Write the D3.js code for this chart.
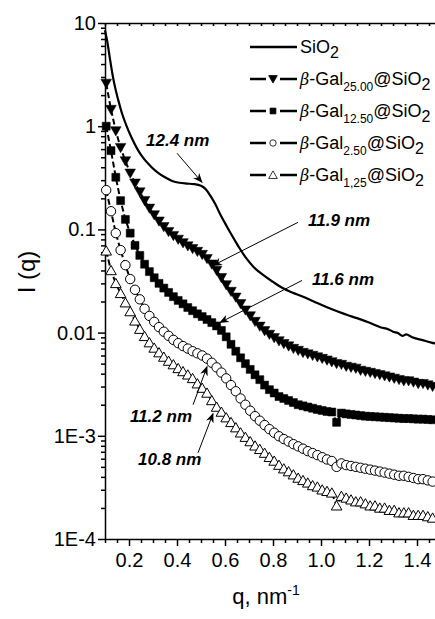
<!DOCTYPE html>
<html>
<head>
<meta charset="utf-8">
<script src="https://cdn.jsdelivr.net/npm/d3@7"></script>
<style>
  body { margin: 0; background: #fff; }
  text { font-family: Arial, "Liberation Sans", sans-serif; fill: #000; }
</style>
</head>
<body>
<div id="chart"></div>
<script>
// q grid shared by the four beta-Gal series (nm^-1)
const qGrid = [0.105,0.125,0.145,0.165,0.185,0.205,0.225,0.245,0.265,0.285,
  0.305,0.325,0.345,0.365,0.385,0.405,0.425,0.445,0.465,0.485,
  0.505,0.525,0.545,0.565,0.585,0.605,0.625,0.645,0.665,0.685,
  0.705,0.725,0.745,0.765,0.785,0.805,0.825,0.845,0.865,0.885,
  0.905,0.925,0.945,0.965,0.985,1.005,1.025,1.045,1.065,1.085,
  1.105,1.125,1.145,1.165,1.185,1.205,1.225,1.245,1.265,1.285,
  1.305,1.325,1.345,1.365,1.385,1.405,1.425,1.445,1.465];

const gal2500 = [2.6,1.45,0.90,0.62,0.46,0.35,0.28,0.23,0.19,0.16,
  0.138,0.120,0.106,0.095,0.087,0.080,0.074,0.069,0.065,0.061,
  0.057,0.052,0.046,0.040,0.034,0.029,0.025,0.022,0.019,0.0165,
  0.0145,0.0128,0.0115,0.0104,0.0096,0.0089,0.0083,0.0078,0.0074,0.0070,
  0.0067,0.0064,0.0062,0.0060,0.0058,0.0056,0.0054,0.0052,0.0050,0.0049,
  0.0047,0.0046,0.0045,0.0043,0.0042,0.0041,0.0040,0.0039,0.0038,0.0037,
  0.0036,0.0035,0.0034,0.0034,0.0033,0.0032,0.0032,0.0031,0.0030];

const gal1250 = [1.0,0.58,0.32,0.19,0.125,0.092,0.070,0.056,0.046,0.039,
  0.034,0.030,0.027,0.0245,0.0223,0.0205,0.0190,0.0175,0.0163,0.0152,
  0.0143,0.0134,0.0125,0.0116,0.0105,0.0091,0.0077,0.0066,0.0057,0.0050,
  0.0044,0.0039,0.0035,0.0031,0.0028,0.0026,0.0024,0.0023,0.0022,0.0021,
  0.0020,0.00195,0.0019,0.00185,0.0018,0.00176,0.00172,0.0017,0.00135,0.00166,
  0.00163,0.00161,0.00159,0.00157,0.00155,0.00154,0.00153,0.00152,0.00151,0.0015,
  0.00149,0.00148,0.00147,0.00147,0.00146,0.00145,0.00145,0.00144,0.00143];

const gal250 = [0.24,0.15,0.092,0.063,0.045,0.033,0.026,0.021,0.017,0.0145,
  0.0127,0.0113,0.0102,0.0093,0.0085,0.0079,0.0074,0.0070,0.0066,0.0063,
  0.0060,0.0056,0.0051,0.0046,0.0041,0.0036,0.0031,0.0027,0.0023,0.0020,
  0.00175,0.00155,0.0014,0.00127,0.00116,0.00107,0.00099,0.00093,0.00088,0.00083,
  0.00079,0.00075,0.00071,0.00068,0.00065,0.00062,0.00059,0.00057,0.00050,0.00054,
  0.00052,0.00051,0.0005,0.00049,0.00048,0.00047,0.00046,0.00045,0.00044,0.00043,
  0.00042,0.00041,0.00041,0.0004,0.00039,0.00038,0.00038,0.00037,0.00036];

const gal125 = [0.062,0.040,0.030,0.024,0.0195,0.0160,0.0130,0.0108,0.0092,0.0080,
  0.0071,0.0064,0.0058,0.0053,0.0049,0.0045,0.0042,0.0039,0.0036,0.0032,
  0.0029,0.0026,0.0022,0.0019,0.0017,0.0015,0.00135,0.0012,0.00107,0.00097,
  0.00088,0.0008,0.00074,0.00068,0.00062,0.00057,0.00052,0.00048,0.00045,0.00042,
  0.00039,0.00037,0.00035,0.00033,0.00032,0.00030,0.00029,0.00028,0.00021,0.00026,
  0.00025,0.00024,0.00023,0.00023,0.00022,0.00021,0.00021,0.0002,0.0002,0.00019,
  0.00019,0.00018,0.00018,0.00018,0.00017,0.00017,0.00017,0.000165,0.00016];

// bare SiO2, solid line
const sio2Q = [0.100,0.110,0.120,0.130,0.140,0.155,0.170,0.190,0.210,0.235,
  0.260,0.290,0.320,0.350,0.380,0.410,0.440,0.470,0.500,0.520,
  0.540,0.560,0.580,0.600,0.620,0.640,0.660,0.690,0.720,0.760,
  0.800,0.840,0.880,0.920,0.970,1.020,1.070,1.110,1.150,1.200,
  1.250,1.280,1.300,1.320,1.340,1.355,1.380,1.420,1.460,1.480];
const sio2I = [8.5,6.5,4.6,3.3,2.5,1.8,1.35,1.0,0.78,0.60,
  0.49,0.41,0.355,0.32,0.295,0.283,0.278,0.275,0.265,0.245,
  0.21,0.175,0.14,0.115,0.095,0.079,0.066,0.052,0.043,0.036,
  0.031,0.027,0.0245,0.0225,0.020,0.0178,0.016,0.0148,0.0138,0.0125,
  0.0112,0.0108,0.0102,0.0099,0.0093,0.0096,0.0090,0.0085,0.0080,0.0078];

const seriesNames = ["SiO2", "β-Gal25.00@SiO2", "β-Gal12.50@SiO2", "β-Gal2.50@SiO2", "β-Gal1,25@SiO2"];
const legendSubs = [null, "25.00", "12.50", "2.50", "1,25"];
const markerTypes = [null, "tridown", "square", "circle", "triup"];

const xTickValues = [0.2, 0.4, 0.6, 0.8, 1.0, 1.2, 1.4];
const xTickLabels = ["0.2", "0.4", "0.6", "0.8", "1.0", "1.2", "1.4"];
const yTickValues = [10, 1, 0.1, 0.01, 1e-3, 1e-4];
const yTickLabels = ["10", "1", "0.1", "0.01", "1E-3", "1E-4"];

// annotation arrows: text anchor, arrow start, arrow tip (data coords)
const annLabels = ["12.4 nm", "11.9 nm", "11.6 nm", "11.2 nm", "10.8 nm"];
const annText = [[0.271, 0.64], [0.946, 0.107], [0.9625, 0.0292], [0.204, 0.00137], [0.2375, 0.000525]];
const annFrom = [[0.40, 0.547], [0.904, 0.117], [0.921, 0.032], [0.467, 0.0020], [0.4875, 0.000684]];
const annTip = [[0.504, 0.286], [0.55, 0.0447], [0.579, 0.0125], [0.525, 0.00468], [0.55, 0.00164]];

const W = 435, H = 619;
const x = d3.scaleLinear().domain([0.1, 1.5]).range([105, 441]);
const y = d3.scaleLog().domain([1e-4, 10]).range([539, 23]);

const svg = d3.select("#chart").append("svg")
  .attr("width", W)
  .attr("height", H);

svg.append("defs").append("marker")
  .attr("id", "arr")
  .attr("viewBox", "0 0 10 8")
  .attr("refX", 9).attr("refY", 4)
  .attr("markerWidth", 10).attr("markerHeight", 8)
  .attr("markerUnits", "userSpaceOnUse")
  .attr("orient", "auto")
  .append("path")
  .attr("d", "M0,0 L10,4 L0,8 L3,4 Z")
  .attr("fill", "#000");

function symbolPath(type, size) {
  const s = size;
  if (type === "tridown") return `M${-s},${-s * 0.8} L${s},${-s * 0.8} L0,${s * 0.95} Z`;
  if (type === "triup") return `M${-s},${s * 0.8} L${s},${s * 0.8} L0,${-s * 0.95} Z`;
  if (type === "square") return `M${-s * 0.8},${-s * 0.8} h${s * 1.6} v${s * 1.6} h${-s * 1.6} Z`;
  return d3.symbol().type(d3.symbolCircle).size(Math.PI * s * s)();
}

// axes
const xMinor = d3.range(0.1, 1.5001, 0.05).filter(v => xTickValues.every(t => Math.abs(t - v) > 1e-6));
svg.append("g")
  .attr("transform", "translate(0,539)")
  .call(d3.axisBottom(x).tickValues(xMinor).tickSize(4).tickFormat(""))
  .call(g => g.select(".domain").remove());
const xAxis = svg.append("g")
  .attr("transform", "translate(0,539)")
  .call(d3.axisBottom(x).tickValues(xTickValues).tickSize(7).tickSizeOuter(0).tickPadding(7)
    .tickFormat((d, i) => xTickLabels[i]));
xAxis.selectAll("text").attr("font-size", 20);

// top frame with small inward ticks
svg.append("g")
  .attr("transform", "translate(0,23)")
  .call(d3.axisTop(x).tickValues(d3.range(0.1, 1.5001, 0.05)).tickSize(-3).tickSizeOuter(0).tickFormat(""));

const yMinor = [];
[1e-4, 1e-3, 1e-2, 1e-1, 1].forEach(dec => {
  for (let k = 2; k <= 9; k++) yMinor.push(dec * k);
});
svg.append("g")
  .attr("transform", "translate(105,0)")
  .call(d3.axisLeft(y).tickValues(yMinor).tickSize(4).tickFormat(""))
  .call(g => g.select(".domain").remove());
const yAxis = svg.append("g")
  .attr("transform", "translate(105,0)")
  .call(d3.axisLeft(y).tickValues(yTickValues).tickSize(7).tickSizeOuter(0).tickPadding(2)
    .tickFormat((d, i) => yTickLabels[i]));
yAxis.selectAll("text").attr("font-size", 20);

svg.selectAll(".domain, .tick line").attr("stroke", "#000").attr("stroke-width", 1.5);

// axis titles
svg.append("text")
  .attr("transform", "translate(35,272) rotate(-90)")
  .attr("text-anchor", "middle")
  .attr("font-size", 24)
  .text("I (q)");
const xt = svg.append("text")
  .attr("x", 266).attr("y", 604)
  .attr("text-anchor", "middle")
  .attr("font-size", 22);
xt.append("tspan").text("q, nm");
xt.append("tspan").attr("dy", -9).attr("font-size", 14).text("-1");

// data
const lineGen = d3.line().x(d => x(d[0])).y(d => y(d[1]));
const markerSeries = [gal2500, gal1250, gal250, gal125];
const plot = svg.append("g");

plot.append("path")
  .datum(sio2Q.map((q, i) => [q, sio2I[i]]))
  .attr("d", d3.line().curve(d3.curveMonotoneX).x(d => x(d[0])).y(d => y(d[1])))
  .attr("fill", "none")
  .attr("stroke", "#000")
  .attr("stroke-width", 2.2);

markerSeries.forEach((vals, si) => {
  const pts = qGrid.map((q, i) => [q, vals[i]]);
  const type = markerTypes[si + 1];
  const filled = si < 2;
  plot.append("path")
    .datum(pts)
    .attr("d", lineGen)
    .attr("fill", "none")
    .attr("stroke", "#000")
    .attr("stroke-width", 2)
    .attr("stroke-dasharray", "6,3");
  plot.selectAll(".m" + si)
    .data(pts)
    .enter()
    .append("path")
    .attr("class", "m" + si)
    .attr("transform", d => `translate(${x(d[0])},${y(d[1])})`)
    .attr("d", symbolPath(type, type === "circle" ? 4.7 : (type === "square" ? 5 : 5.3)))
    .attr("fill", filled ? "#000" : "#fff")
    .attr("stroke", "#000")
    .attr("stroke-width", filled ? 0.5 : 1);
});

// annotations
annLabels.forEach((lab, i) => {
  svg.append("line")
    .attr("x1", x(annFrom[i][0])).attr("y1", y(annFrom[i][1]))
    .attr("x2", x(annTip[i][0])).attr("y2", y(annTip[i][1]))
    .attr("stroke", "#000")
    .attr("stroke-width", 1)
    .attr("marker-end", "url(#arr)");
  svg.append("text")
    .attr("x", x(annText[i][0])).attr("y", y(annText[i][1]))
    .attr("font-size", 17)
    .attr("font-weight", "bold")
    .attr("font-style", "italic")
    .text(lab);
});

// legend
const legend = svg.append("g").attr("class", "legend");
seriesNames.forEach((name, i) => {
  const by = 53 + i * 32;
  const cy = by - 6;
  legend.append("line")
    .attr("x1", 250).attr("x2", 297)
    .attr("y1", cy).attr("y2", cy)
    .attr("stroke", "#000")
    .attr("stroke-width", 2.5);
  if (markerTypes[i]) {
    const filled = i < 3;
    legend.append("rect")
      .attr("x", 266).attr("y", cy - 5).attr("width", 14).attr("height", 10)
      .attr("fill", "#fff");
    legend.append("path")
      .attr("transform", `translate(273,${cy})`)
      .attr("d", symbolPath(markerTypes[i], markerTypes[i] === "circle" ? 3.2 : (markerTypes[i] === "square" ? 3.6 : 4.3)))
      .attr("fill", filled ? "#000" : "#fff")
      .attr("stroke", "#000")
      .attr("stroke-width", 0.8);
  }
  const t = legend.append("text").attr("x", 300).attr("y", by).attr("font-size", 18);
  if (!legendSubs[i]) {
    t.append("tspan").text("SiO");
    t.append("tspan").attr("dy", 5).attr("font-size", 16).text("2");
  } else {
    t.append("tspan").attr("font-style", "italic").attr("font-family", "DejaVu Serif, serif").attr("font-size", 16).text("β");
    t.append("tspan").text("-Gal");
    t.append("tspan").attr("dy", 6).attr("font-size", 12).text(legendSubs[i]);
    t.append("tspan").attr("dy", -6).text("@SiO");
    t.append("tspan").attr("dy", 5).attr("font-size", 16).text("2");
  }
});
</script>
</body>
</html>
